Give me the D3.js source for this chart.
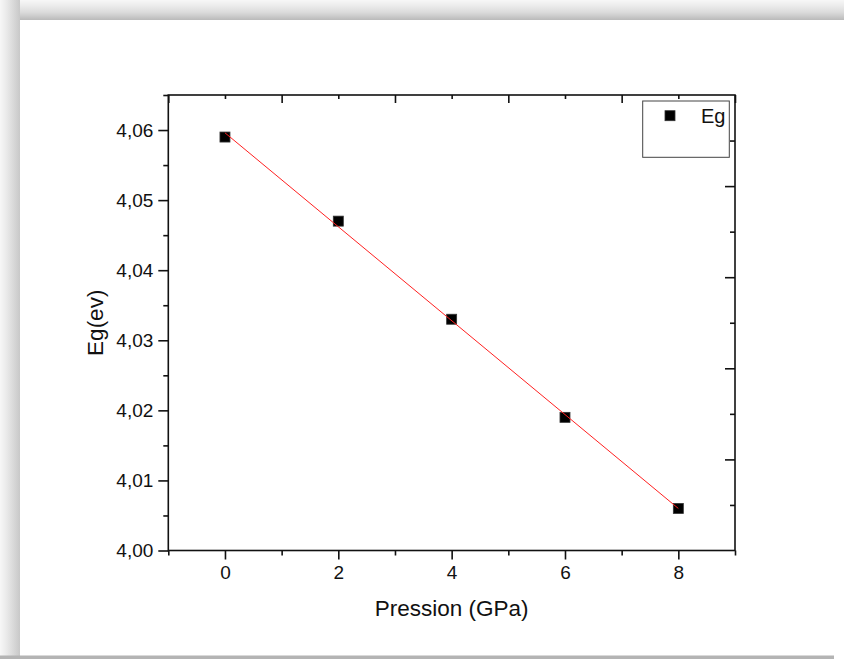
<!DOCTYPE html>
<html>
<head>
<meta charset="utf-8">
<script src="https://cdn.jsdelivr.net/npm/d3@7"></script>
<style>
  html, body { margin: 0; padding: 0; background: #fff; }
  svg { display: block; }
  svg text { font-family: Arial, "Liberation Sans", sans-serif; }
</style>
</head>
<body>
<div class="chart"></div>
<script>
(function() {
  'use strict';

  const WIDTH = 844;
  const HEIGHT = 659;

  // Data
  const pression = [0, 2, 4, 6, 8];
  const eg = [4.059, 4.047, 4.033, 4.019, 4.006];
  // Linear fit (red line), end points
  const fitX = [0, 8];
  const fitY = [4.0596, 4.0060];

  // Tick values
  const xMajor = [0, 2, 4, 6, 8];
  const xMinor = [-1, 1, 3, 5, 7, 9];
  const yMajor = [4.00, 4.01, 4.02, 4.03, 4.04, 4.05, 4.06];
  const yMinor = [4.005, 4.015, 4.025, 4.035, 4.045, 4.055, 4.065];

  const left = 168.3, right = 735, top = 95, bottom = 550.5;

  const x = d3.scaleLinear().domain([-1, 9]).range([left, right]);
  const y = d3.scaleLinear().domain([4.00, 4.065]).range([bottom, top]);
  // opposite axes carry their own divisions
  const yR = d3.scaleLinear().domain([0, 10]).range([bottom, top]);

  const fr = d3.formatLocale({decimal: ',', thousands: '.', grouping: [3], currency: ['', '']});
  const fmt = fr.format('.2f');

  const svg = d3.select('.chart')
    .append('svg')
    .attr('width', WIDTH)
    .attr('height', HEIGHT);

  // Shadow frame of the screenshot
  const defs = svg.append('defs');
  const gTop = defs.append('linearGradient').attr('id', 'gtop')
    .attr('x1', 0).attr('y1', 0).attr('x2', 0).attr('y2', 1);
  gTop.append('stop').attr('offset', '0%').attr('stop-color', '#f7f7f7');
  gTop.append('stop').attr('offset', '30%').attr('stop-color', '#ebebeb');
  gTop.append('stop').attr('offset', '60%').attr('stop-color', '#dcdcdc');
  gTop.append('stop').attr('offset', '80%').attr('stop-color', '#cccccc');
  gTop.append('stop').attr('offset', '100%').attr('stop-color', '#bababa');
  const gLeft = defs.append('linearGradient').attr('id', 'gleft')
    .attr('x1', 0).attr('y1', 0).attr('x2', 1).attr('y2', 0);
  gLeft.append('stop').attr('offset', '0%').attr('stop-color', '#f7f7f7');
  gLeft.append('stop').attr('offset', '30%').attr('stop-color', '#ebebeb');
  gLeft.append('stop').attr('offset', '60%').attr('stop-color', '#dcdcdc');
  gLeft.append('stop').attr('offset', '100%').attr('stop-color', '#c8c8c8');

  svg.append('rect').attr('x', 0).attr('y', 0).attr('width', WIDTH).attr('height', 20)
    .attr('fill', 'url(#gtop)');
  svg.append('rect').attr('x', 0).attr('y', 0).attr('width', 20).attr('height', HEIGHT)
    .attr('fill', 'url(#gleft)');
  svg.append('rect').attr('x', 20).attr('y', 20).attr('width', WIDTH - 20).attr('height', 635.5)
    .attr('fill', '#fff');
  svg.append('rect').attr('x', 0).attr('y', 655.5).attr('width', 834).attr('height', 4)
    .attr('fill', '#b4b4b4');

  // Axes
  function styleAxis(g) {
    g.attr('font-family', null).attr('font-size', null);
    g.select('.domain').remove();
    g.selectAll('.tick line').attr('stroke', '#111').attr('stroke-width', 1.6);
    g.selectAll('.tick text').attr('fill', '#111')
      .style('font-family', 'Arial, "Liberation Sans", sans-serif')
      .style('font-size', '19px');
  }

  svg.append('g').attr('transform', 'translate(' + left + ',0)')
    .call(d3.axisLeft(y).tickValues(yMinor).tickSize(5).tickFormat(''))
    .call(styleAxis);
  svg.append('g').attr('transform', 'translate(' + left + ',0)')
    .call(d3.axisLeft(y).tickValues(yMajor).tickSize(10).tickPadding(5).tickFormat(fmt))
    .call(styleAxis);

  svg.append('g').attr('transform', 'translate(0,' + bottom + ')')
    .call(d3.axisBottom(x).tickValues(xMinor).tickSize(5).tickFormat(''))
    .call(styleAxis);
  svg.append('g').attr('transform', 'translate(0,' + bottom + ')')
    .call(d3.axisBottom(x).tickValues(xMajor).tickSize(9).tickPadding(6).tickFormat(d3.format('d')))
    .call(styleAxis);

  // top axis, ticks inside
  svg.append('g').attr('transform', 'translate(0,' + top + ')')
    .call(d3.axisTop(x).tickValues(xMajor).tickSize(-4).tickFormat(''))
    .call(styleAxis);
  svg.append('g').attr('transform', 'translate(0,' + top + ')')
    .call(d3.axisTop(x).tickValues(xMinor).tickSize(-8).tickFormat(''))
    .call(styleAxis);

  // right axis, ticks inside
  svg.append('g').attr('transform', 'translate(' + right + ',0)')
    .call(d3.axisRight(yR).tickValues([1, 3, 5, 7, 9]).tickSize(-5).tickFormat(''))
    .call(styleAxis);
  svg.append('g').attr('transform', 'translate(' + right + ',0)')
    .call(d3.axisRight(yR).tickValues([2, 4, 6, 8]).tickSize(-10).tickFormat(''))
    .call(styleAxis);

  svg.append('rect')
    .attr('x', left).attr('y', top)
    .attr('width', right - left).attr('height', bottom - top)
    .attr('fill', 'none').attr('stroke', '#111').attr('stroke-width', 1.6);

  // Points
  svg.append('g').selectAll('rect')
    .data(pression)
    .join('rect')
    .attr('x', function(d) { return x(d) - 5; })
    .attr('y', function(d, i) { return y(eg[i]) - 5; })
    .attr('width', 10).attr('height', 10)
    .attr('fill', '#000').attr('stroke', '#333').attr('stroke-width', 0.8);

  // Fit line
  const line = d3.line()
    .x(function(d) { return x(d); })
    .y(function(d, i) { return y(fitY[i]); });
  svg.append('path')
    .attr('d', line(fitX))
    .attr('fill', 'none').attr('stroke', '#ff2020').attr('stroke-width', 1);

  // Legend
  svg.append('rect')
    .attr('x', 642.7).attr('y', 101).attr('width', 86.6).attr('height', 56.3)
    .attr('fill', '#fff').attr('stroke', '#444').attr('stroke-width', 1);
  svg.append('rect')
    .attr('x', 665).attr('y', 110.7).attr('width', 10).attr('height', 10)
    .attr('fill', '#000').attr('stroke', '#333').attr('stroke-width', 0.8);
  svg.append('text')
    .attr('x', 701).attr('y', 123)
    .style('font-size', '20px').attr('fill', '#111')
    .text('Eg');

  // Axis titles
  svg.append('text')
    .attr('x', (left + right) / 2).attr('y', 616)
    .attr('text-anchor', 'middle')
    .style('font-size', '22.5px').attr('fill', '#111')
    .text('Pression (GPa)');
  svg.append('text')
    .attr('transform', 'translate(103,' + ((top + bottom) / 2) + ') rotate(-90)')
    .attr('text-anchor', 'middle')
    .style('font-size', '22.5px').attr('fill', '#111')
    .text('Eg(ev)');
})();
</script>
</body>
</html>
